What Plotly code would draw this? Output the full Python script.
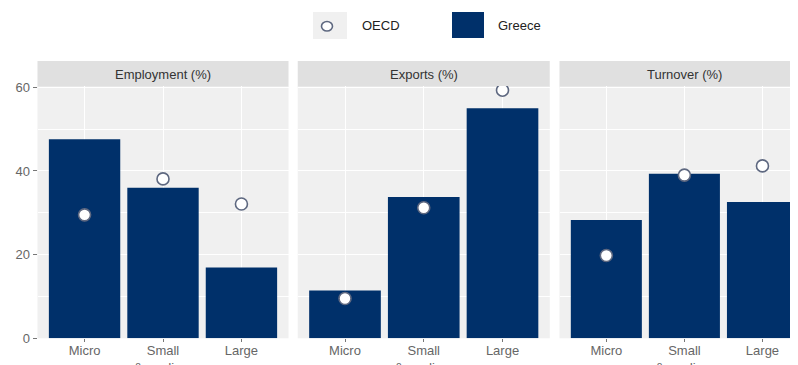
import plotly.graph_objects as go

categories = ["Micro", "Small<br>& medium", "Large"]
panels = ["Employment (%)", "Exports (%)", "Turnover (%)"]
greece_employment = [47.6, 36.0, 16.9]
greece_exports = [11.4, 33.8, 55.0]
greece_turnover = [28.3, 39.3, 32.6]
oecd_employment = [29.5, 38.1, 32.1]
oecd_exports = [9.5, 31.2, 59.3]
oecd_turnover = [19.8, 39.0, 41.2]
y_ticks = [0, 20, 40, 60]

# the page body has an 8px margin, so the figure is drawn from (8, 8)
OFF = 8
W, H = 798 - OFF, 365 - OFF
NAVY = "#00306A"
FONT = "Liberation Sans, Arial, sans-serif"


def px(x):
    return (x - OFF) / W


def py(y):
    return 1 - (y - OFF) / H


greece = [greece_employment, greece_exports, greece_turnover]
oecd = [oecd_employment, oecd_exports, oecd_turnover]

fig = go.Figure()
for i in range(3):
    xa = "x" if i == 0 else f"x{i+1}"
    ya = "y" if i == 0 else f"y{i+1}"
    fig.add_trace(go.Bar(x=categories, y=greece[i], name="Greece", marker_color=NAVY,
                         marker_line_width=0, width=0.91, xaxis=xa, yaxis=ya, showlegend=False))
    fig.add_trace(go.Scatter(x=categories, y=oecd[i], name="OECD", mode="markers",
                             marker=dict(symbol="circle", size=12, color="white",
                                         line=dict(color="#5E6880", width=1.6)),
                             xaxis=xa, yaxis=ya, showlegend=False))

doms = [[px(37.5), px(288.5)], [px(297.75), px(549.75)], [px(559.5), 1.0]]
ranges = [[-0.6, 2.6], [-0.6, 2.6], [-0.6, 2 + (798 - 762.5) / 78]]
ydom = [py(338.3), py(86)]

axis_font = dict(family=FONT, size=13, color="#666666")
layout = dict(
    width=W, height=H, margin=dict(l=0, r=0, t=0, b=0),
    paper_bgcolor="white", plot_bgcolor="#F0F0F0",
    font=dict(family=FONT), showlegend=False,
)
for i in range(3):
    k = "" if i == 0 else str(i + 1)
    layout[f"xaxis{k}"] = dict(
        domain=doms[i], range=ranges[i], anchor=f"y{k}", type="category",
        showgrid=True, gridcolor="white", gridwidth=1.3, zeroline=False,
        ticks="outside", ticklen=3, tickcolor="#777777", tickfont=axis_font,
        ticklabelstandoff=-3,
        showline=False, automargin=False, fixedrange=True,
    )
    ya = dict(
        domain=ydom, range=[0, 60.3], anchor=f"x{k}",
        tickvals=y_ticks, showgrid=True, gridcolor="white", gridwidth=1.3,
        minor=dict(dtick=10, showgrid=True, gridcolor="white", gridwidth=0.8),
        zeroline=False, showline=False, automargin=False,
    )
    if i == 0:
        ya.update(ticks="outside", ticklen=4, tickcolor="#777777", tickfont=axis_font)
    else:
        ya.update(showticklabels=False, ticks="", matches="y")
    layout[f"yaxis{k}"] = ya

fig.update_layout(**layout)

# facet strips
for i in range(3):
    k = "" if i == 0 else str(i + 1)
    fig.add_shape(type="rect", xref="paper", yref="paper",
                  x0=doms[i][0], x1=min(doms[i][1], 1.0),
                  y0=py(86.5), y1=py(61),
                  fillcolor="#E0E0E0", line_width=0, layer="below")
    fig.add_annotation(x=categories[1], xref=f"x{k}", y=py(74), yref="paper",
                       yanchor="middle", text=panels[i], showarrow=False,
                       font=dict(family=FONT, size=13, color="#333333"))

# legend
fig.add_shape(type="rect", xref="paper", yref="paper",
              x0=px(313), x1=px(347), y0=py(39), y1=py(12),
              fillcolor="#F0F0F0", line_width=0)
fig.add_shape(type="circle", xref="paper", yref="paper",
              x0=px(321.5), x1=px(332.5), y0=py(31), y1=py(21.5),
              fillcolor="white", line=dict(color="#5E6880", width=1.6))
fig.add_shape(type="rect", xref="paper", yref="paper",
              x0=px(452), x1=px(484), y0=py(38), y1=py(12),
              fillcolor=NAVY, line_width=0)
fig.add_annotation(x=px(360), y=py(25.5), xref="paper", yref="paper",
                   xanchor="left", yanchor="middle",
                   text="OECD", showarrow=False, font=dict(family=FONT, size=13, color="#222222"))
fig.add_annotation(x=px(496), y=py(25.5), xref="paper", yref="paper",
                   xanchor="left", yanchor="middle",
                   text="Greece", showarrow=False, font=dict(family=FONT, size=13, color="#222222"))

fig.write_html("out.html")
